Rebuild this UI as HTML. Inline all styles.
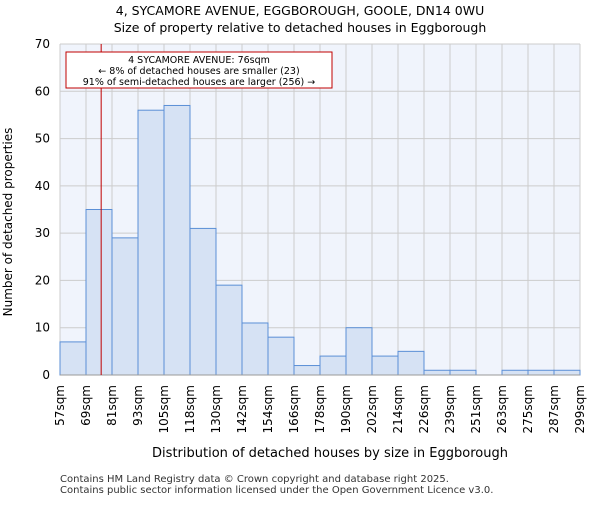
<!DOCTYPE html>
<html><head><meta charset="utf-8"><style>body{margin:0;background:#fff}svg{font-family:"DejaVu Sans","Liberation Sans",sans-serif}</style></head>
<body>
<svg width="600" height="500" viewBox="0 0 600 500">
<text x="300" y="15" text-anchor="middle" font-size="12.5">4, SYCAMORE AVENUE, EGGBOROUGH, GOOLE, DN14 0WU</text>
<text x="300" y="32" text-anchor="middle" font-size="12.5">Size of property relative to detached houses in Eggborough</text>
<rect x="60" y="44" width="520" height="331" fill="#f0f4fc"/>
<g id="grid"></g><g id="bars"></g><g id="axes"></g>
<line id="marker" y1="44" y2="375" stroke="#c00000" stroke-width="1"/>
<rect x="66" y="52" width="266" height="36" fill="#fff" stroke="#c00000" stroke-width="1"/>
<text x="199" y="63" text-anchor="middle" font-size="9.5">4 SYCAMORE AVENUE: 76sqm</text>
<text x="199" y="74" text-anchor="middle" font-size="9.5">← 8% of detached houses are smaller (23)</text>
<text x="199" y="85" text-anchor="middle" font-size="9.5">91% of semi-detached houses are larger (256) →</text>
<text transform="translate(12,222) rotate(-90)" text-anchor="middle" font-size="12">Number of detached properties</text>
<text x="330" y="457" text-anchor="middle" font-size="13">Distribution of detached houses by size in Eggborough</text>
<text x="60" y="482" font-size="10" fill="#333">Contains HM Land Registry data © Crown copyright and database right 2025.</text>
<text x="60" y="493" font-size="10" fill="#333">Contains public sector information licensed under the Open Government Licence v3.0.</text>
</svg>
<script>
const binLabels=["57sqm","69sqm","81sqm","93sqm","105sqm","118sqm","130sqm","142sqm","154sqm","166sqm","178sqm","190sqm","202sqm","214sqm","226sqm","239sqm","251sqm","263sqm","275sqm","287sqm","299sqm"];
const counts=[7,35,29,56,57,31,19,11,8,2,4,10,4,5,1,1,0,1,1,1];
const yTicks=[0,10,20,30,40,50,60,70];
const propertySize=76;
const binEdges=[57,69,81,93,105,118,130,142,154,166,178,190,202,214,226,239,251,263,275,287,299];
const NS="http://www.w3.org/2000/svg";
const x0=60,x1=580,yb=375,yt=44,ymax=70;
const bw=(x1-x0)/counts.length;
const xs=i=>x0+i*bw;
const ys=v=>yb-(v/ymax)*(yb-yt);
function mk(t,a,p){const e=document.createElementNS(NS,t);for(const k in a)e.setAttribute(k,a[k]);p.appendChild(e);return e;}
const grid=document.getElementById('grid'),bars=document.getElementById('bars'),axes=document.getElementById('axes');
yTicks.forEach(v=>{const l=mk('line',{x1:x0,x2:x1,y1:ys(v),y2:ys(v),stroke:'#cccccc','stroke-width':1},grid);


const t=mk('text',{x:x0-10,y:ys(v)+4,'text-anchor':'end','font-size':12},axes);t.textContent=v;

});
binLabels.forEach((s,i)=>{const l=mk('line',{x1:xs(i),x2:xs(i),y1:yt,y2:yb,stroke:'#cccccc','stroke-width':1},grid);


const t=mk('text',{transform:`translate(${xs(i)+4},385) rotate(-90)`,'text-anchor':'end','font-size':12},axes);t.textContent=s;

});
counts.forEach((c,i)=>{if(c<=0)return;const r=mk('rect',{x:xs(i),y:ys(c),width:bw,height:yb-ys(c),fill:'#d6e2f4',stroke:'#5b8fd6','stroke-width':1},bars);

});
const ax=mk('line',{x1:x0,x2:x1,y1:yb,y2:yb,stroke:'#999','stroke-width':1},axes);


let bi=0;while(bi<binEdges.length-2&&propertySize>=binEdges[bi+1])bi++;
const mx=xs(bi)+(propertySize-binEdges[bi])/(binEdges[bi+1]-binEdges[bi])*bw;
const m=document.getElementById('marker');m.setAttribute('x1',mx);m.setAttribute('x2',mx);
</script>
</body></html>
